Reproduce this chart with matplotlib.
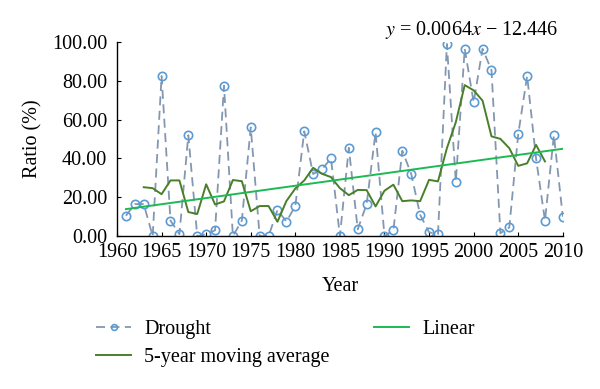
import numpy as np
import matplotlib.pyplot as plt

plt.rcParams['font.family'] = ['Liberation Serif', 'DejaVu Serif']
plt.rcParams['mathtext.fontset'] = 'stix'

years = list(range(1961, 2011))
drought = [10.5, 16.5, 16.5, 0, 82.5, 8, 1, 52, 0, 1,
           3, 77.5, 0, 8, 56, 0, 0, 13.5, 7.5, 15.5,
           54, 32, 34.5, 40, 0, 45.5, 3.5, 16.5, 53.5, 0,
           3, 44, 32, 11, 2, 1, 99, 28, 96.5, 69,
           96.5, 85.5, 1.5, 4.5, 52.5, 82.5, 40, 8, 52, 10]

ma_years = list(range(1963, 2009))
ma_vals = [25.2, 24.7, 21.6, 28.7, 28.7, 12.4, 11.4, 26.7, 16.3, 17.9,
           28.9, 28.3, 12.8, 15.5, 15.5, 7.4, 18.1, 24.5, 28.7, 35.2,
           32.1, 30.4, 24.7, 21.1, 23.8, 23.7, 15.3, 23.4, 26.5, 18.0,
           18.4, 18.0, 29.0, 28.2, 45.3, 58.7, 77.8, 75.1, 69.8, 51.4,
           50.1, 45.3, 36.2, 37.5, 47.0, 38.5]

lin_years = [1961, 2010]
lin_vals = [13.9, 45.0]

fig = plt.figure(figsize=(6, 3.89), dpi=100)
ax = fig.add_axes([0.195, 0.393, 0.743, 0.499])

ax.plot(years, drought, linestyle=(0, (5, 3)), color='#8497b0', linewidth=1.3,
        marker='o', markersize=6, markerfacecolor='none',
        markeredgecolor='#5b9bd5', markeredgewidth=1.2, label='Drought')
ax.plot(ma_years, ma_vals, color='#4a7f2a', linewidth=1.4, label='5-year moving average')
ax.plot(lin_years, lin_vals, color='#1db954', linewidth=1.4, label='Linear')

ax.set_xlim(1960, 2010)
ax.set_ylim(0, 100)
ax.set_xticks(range(1960, 2011, 5))
ax.set_yticks(range(0, 101, 20))
ax.set_yticklabels([f'{v:.2f}' for v in range(0, 101, 20)])
ax.tick_params(direction='in', labelsize=14.5, length=3)
ax.tick_params(axis='x', pad=5)
ax.tick_params(axis='y', pad=7)
ax.spines['top'].set_visible(False)
ax.spines['right'].set_visible(False)
for s in ['left', 'bottom']:
    ax.spines[s].set_linewidth(1.0)
for lab in ax.get_xticklabels() + ax.get_yticklabels():
    lab.set_clip_on(False)

ax.set_xlabel('Year', fontsize=14.5, labelpad=11)
ax.set_ylabel('Ratio (%)', fontsize=14.5, labelpad=7)

ax.text(0.99, 1.06, r'$y$ = 0.0064$x$ − 12.446', transform=ax.transAxes,
        ha='right', va='center', fontsize=14.5)

fig.legend(loc='upper left', bbox_to_anchor=(0.16, 0.177), ncol=2, frameon=False,
           fontsize=14.5, handlelength=1.75, columnspacing=2.2, labelspacing=0.45,
           handletextpad=0.65, borderpad=0, borderaxespad=0, markerscale=0.7)

fig.savefig('out.png', dpi=100)
